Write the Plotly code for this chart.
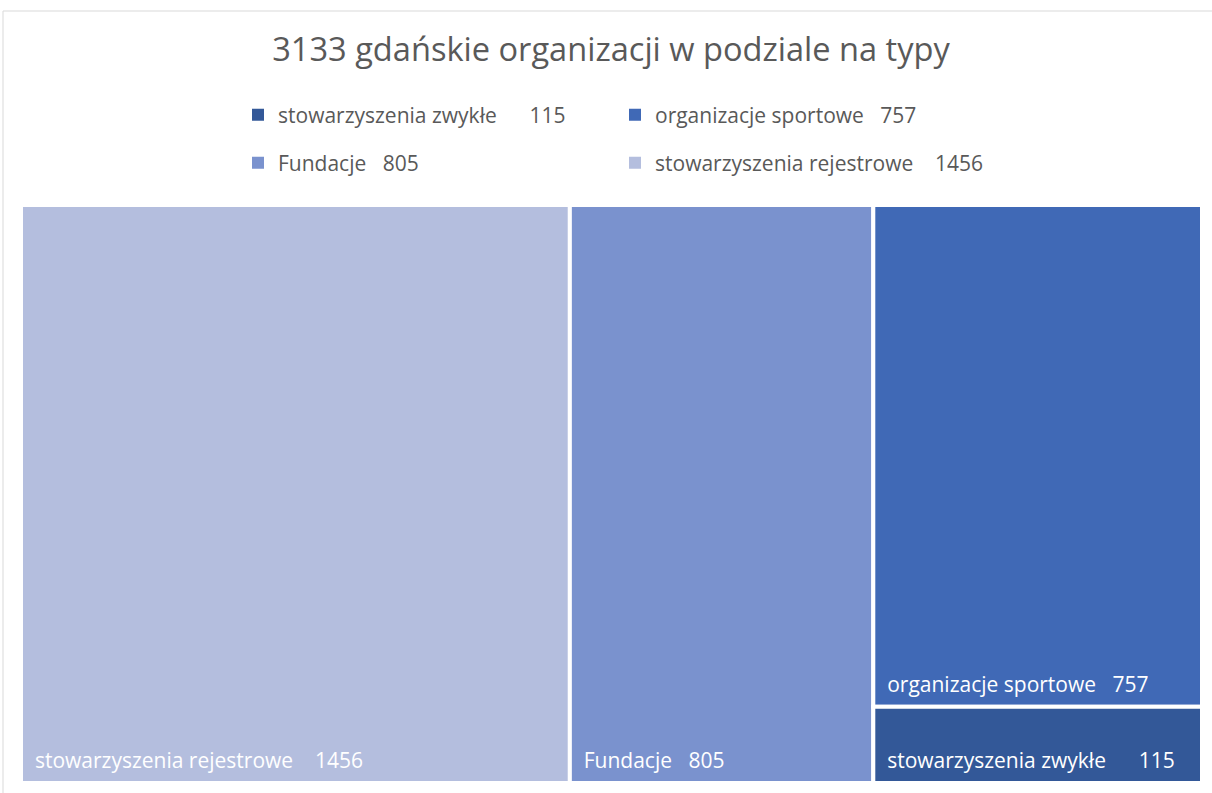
import plotly.graph_objects as go

NB = "\u00a0"
categories = ["stowarzyszenia rejestrowe", "Fundacje", "organizacje sportowe", "stowarzyszenia zwykłe"]
values = [1456, 805, 757, 115]
gaps = [4, 3, 3, 6]  # spaces between name and number as in the original labels
colors = ["#B4BEDE", "#7A92CE", "#4069B6", "#335898"]
title_text = "3133 gdańskie organizacji w podziale na typy"

labels_full = [c + NB * g + str(v) for c, v, g in zip(categories, values, gaps)]
tile_text = [f"<span style='font-size:21px'>{NB * 2}{t}</span><br>{NB}" for t in labels_full]

W, H = 1212, 793
FONT = "Open Sans"

fig = go.Figure()
fig.add_trace(go.Treemap(
    labels=categories,
    parents=[""] * len(categories),
    values=values,
    customdata=tile_text,
    texttemplate="%{customdata}",
    textposition="bottom left",
    textfont=dict(family=FONT, size=7.5, color="white"),
    marker=dict(colors=colors, line=dict(color="white", width=4), pad=dict(t=0, l=0, r=0, b=0)),
    tiling=dict(packing="squarify", pad=0),
    pathbar=dict(visible=False),
    sort=True,
    hoverinfo="label+value",
    domain=dict(x=[21 / W, 1202 / W], y=[(H - 783) / H, (H - 205) / H]),
))

# legend rows: row 1 -> zwykłe, sportowe ; row 2 -> Fundacje, rejestrowe
legend_rows = [["stowarzyszenia zwykłe", "organizacje sportowe"], ["Fundacje", "stowarzyszenia rejestrowe"]]
for r, row in enumerate(legend_rows):
    for name in row:
        i = categories.index(name)
        fig.add_trace(go.Scatter(
            x=[None], y=[None], mode="markers", name=labels_full[i],
            marker=dict(symbol="square", size=12, color=colors[i]),
            legend="legend" if r == 0 else "legend2",
        ))

legend_common = dict(
    orientation="h", xanchor="left", yanchor="middle", entrywidth=332, entrywidthmode="pixels",
    font=dict(family=FONT, size=21, color="#595959"), bgcolor="rgba(0,0,0,0)", itemclick=False,
    itemdoubleclick=False,
)

fig.update_layout(
    width=W, height=H,
    margin=dict(l=0, r=0, t=0, b=0, autoexpand=False),
    paper_bgcolor="white", plot_bgcolor="white",
    title=dict(text=title_text, x=611 / W, xanchor="center", y=(H - 50) / H, yanchor="middle",
               font=dict(family=FONT, size=32.6, color="#595959")),
    xaxis=dict(visible=False), yaxis=dict(visible=False),
    legend=dict(x=238 / W, y=(H - 115) / H, **legend_common),
    legend2=dict(x=238 / W, y=(H - 163) / H, **legend_common),
    shapes=[dict(type="rect", xref="paper", yref="paper", x0=3 / W, x1=1.05, y0=-0.05, y1=(H - 11) / H,
                 line=dict(color="#D9D9D9", width=1), fillcolor="rgba(0,0,0,0)", layer="below")],
)

fig.write_html("out.html", config={"displayModeBar": False},
               post_script="document.body.style.margin='0';document.body.style.overflow='hidden';")
